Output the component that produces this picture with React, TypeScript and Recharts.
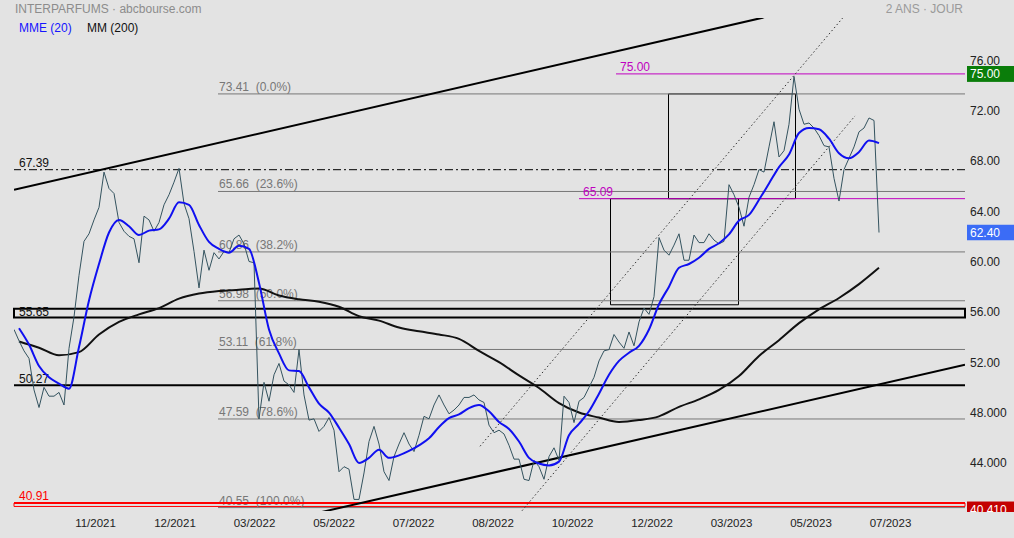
import React from "react";
import {
  ComposedChart,
  Line,
  XAxis,
  YAxis,
  ReferenceLine,
  ReferenceArea,
} from "recharts";

// daily closes, one value every ~2.5 sessions
const PRICE = [
  54.7, 53.8, 53.0, 52.4, 49.9, 48.5, 50.1, 49.4, 49.4, 49.7,
  48.7, 53.2, 55.7, 59.0, 61.7, 62.3, 63.4, 64.4, 67.2, 65.9,
  65.5, 63.2, 62.5, 62.1, 61.9, 60.0, 63.7, 63.4, 62.5, 63.2,
  64.6, 65.4, 66.4, 67.5, 64.7, 63.5, 60.9, 58.0, 61.0, 59.4,
  60.8, 60.3, 60.9, 60.8, 61.9, 62.2, 61.5, 60.1, 60.0, 47.6,
  50.5, 49.0, 51.1, 52.0, 50.6, 50.3, 49.7, 53.1, 49.5, 47.5,
  47.6, 46.6, 47.0, 47.7, 46.7, 43.4, 43.8, 43.6, 41.2, 41.2,
  43.3, 45.8, 47.0, 45.6, 43.4, 42.7, 44.6, 45.6, 46.5, 45.6,
  45.0, 46.3, 47.8, 47.6, 48.7, 49.5, 48.7, 48.0, 48.3, 48.7,
  49.3, 49.3, 49.5, 49.1, 48.9, 47.1, 46.5, 46.7, 46.4, 45.5,
  44.4, 44.4, 42.8, 42.7, 44.3, 43.8, 42.8, 44.6, 45.3, 44.3,
  49.4, 48.9, 47.3, 49.0, 49.3, 50.1, 50.9, 52.2, 53.0, 53.1,
  54.3, 53.7, 53.2, 54.5, 53.4, 55.3, 56.4, 55.9, 57.3, 62.0,
  61.0, 60.6, 61.4, 62.3, 60.2, 60.2, 62.2, 61.6, 61.6, 62.3,
  61.8, 61.5, 61.7, 66.2, 65.4, 64.4, 62.9, 65.2, 66.2, 67.4,
  67.2, 69.2, 71.2, 68.4, 68.9, 71.0, 74.8, 72.2, 71.0, 71.1,
  70.7, 70.1, 69.3, 69.2, 66.7, 64.9, 67.4, 68.3, 69.2, 70.4,
  70.7, 71.5, 71.3, 62.4,
];

// MME (20), one value every 2 price steps (starting at step 1)
const MME = [
  54.8, 53.5, 51.8, 50.9, 50.4, 50.0, 53.3, 57.0, 59.9, 62.4,
  63.4, 62.9, 62.2, 62.55, 62.65, 63.5, 64.8, 64.6, 63.0, 61.65,
  61.1, 60.8, 61.35, 61.1, 58.4, 54.7, 52.8, 51.45, 51.4, 50.1,
  48.8, 48.1, 46.9, 45.6, 44.1, 44.5, 45.15, 44.5, 44.7, 45.05,
  45.5, 46.05, 46.95, 47.65, 47.95, 48.45, 48.7, 48.2, 47.35, 46.8,
  45.8, 44.5, 44.05, 43.9, 44.2, 46.3, 47.2, 48.2, 49.6, 51.1,
  52.2, 52.85, 53.4, 54.7, 56.7, 58.1, 59.6, 59.9, 60.4, 61.1,
  61.55, 62.25, 63.35, 63.8, 65.0, 66.3, 67.6, 68.6, 70.3, 70.7,
  70.6, 69.85, 68.7, 68.3, 68.8, 69.7, 69.5,
];

// MM (200), one value every 4 price steps (starting at step 1)
const MM = [
  53.75, 53.25, 52.65, 52.9, 54.3, 55.3, 55.9, 56.4, 57.15, 57.55,
  57.75, 57.85, 57.95, 57.4, 57.1, 56.9, 56.5, 55.75, 55.4, 54.85,
  54.55, 54.3, 53.95, 53.0, 52.1, 51.05, 50.05, 48.85, 48.1, 47.7,
  47.35, 47.5, 47.8, 48.55, 49.15, 49.9, 51.0, 52.6, 53.85, 55.2,
  56.3, 57.2, 58.3, 59.6,
];

const X_TICKS = [16.3, 32.2, 48.1, 64.0, 79.9, 95.8, 111.7, 127.6, 143.5, 159.4, 175.3];
const X_LABELS = [
  "11/2021", "12/2021", "03/2022", "05/2022", "07/2022", "08/2022",
  "10/2022", "12/2022", "03/2023", "05/2023", "07/2023",
];

const Y_TICKS = [44, 48, 52, 56, 60, 64, 68, 72, 76];
const Y_LABELS = ["44.000", "48.000", "52.00", "56.00", "60.00", "64.00", "68.00", "72.00", "76.00"];

const FIB_LEVELS = [73.41, 65.66, 60.86, 56.98, 53.11, 47.59, 40.55];
const FIB_TEXT = ["73.41", "65.66", "60.86", "56.98", "53.11", "47.59", "40.55"];
const FIB_PCTS = ["0.0%", "23.6%", "38.2%", "50.0%", "61.8%", "78.6%", "100.0%"];

const X_MAX = 190.2;
const Y_MIN = 40.28;
const Y_MAX = 79.44;
const FIB_START = 40.8;

const FONT = "'Liberation Sans', Arial, sans-serif";
const MAGENTA = "#c000c0";

const priceData = PRICE.map((v, i) => ({ i, v }));
const mmeData = MME.map((v, k) => ({ i: 1 + 2 * k, v }));
const mmData = MM.map((v, k) => ({ i: 1 + 4 * k, v }));

const textLabel =
  (text: string, color: string, dx: number, dy: number, bottom = false) =>
  (props: any) => {
    const vb = props.viewBox || {};
    const y = bottom ? vb.y + vb.height : vb.y;
    return (
      <text
        x={vb.x + dx}
        y={y + dy}
        fill={color}
        fontSize={12}
        fontFamily={FONT}
        style={{ whiteSpace: "pre" }}
      >
        {text}
      </text>
    );
  };

const badge =
  (text: string, fill: string, clipBottom?: number) => (props: any) => {
    const vb = props.viewBox || {};
    const x = vb.x + vb.width + 2;
    const top = vb.y - 8;
    const h = clipBottom ? Math.min(16, clipBottom - top) : 16;
    const id = "clip-" + text.replace(".", "");
    return (
      <g>
        <defs>
          <clipPath id={id}>
            <rect x={x} y={top} width={47} height={h} />
          </clipPath>
        </defs>
        <g clipPath={`url(#${id})`}>
          <rect x={x} y={top} width={47} height={16} fill={fill} />
          <text x={x + 3} y={vb.y + 4.5} fill="#fff" fontSize={12} fontFamily={FONT}>
            {text}
          </text>
        </g>
      </g>
    );
  };

export default function App() {
  return (
    <div
      style={{
        position: "absolute",
        left: 0,
        top: 0,
        width: 1014,
        height: 538,
        background: "#e3e3e3",
        fontFamily: FONT,
        overflow: "hidden",
      }}
    >
      <div style={{ position: "absolute", left: 15, top: 2, fontSize: 12, lineHeight: "14px", color: "#8c8c8c" }}>
        INTERPARFUMS · abcbourse.com
      </div>
      <div style={{ position: "absolute", right: 51, top: 2, fontSize: 12, lineHeight: "14px", color: "#9a9a9a" }}>
        2 ANS · JOUR
      </div>
      <div style={{ position: "absolute", left: 19, top: 21, fontSize: 12, lineHeight: "14px", color: "#1515ff" }}>
        MME (20)
      </div>
      <div style={{ position: "absolute", left: 87, top: 21, fontSize: 12, lineHeight: "14px", color: "#111" }}>
        MM (200)
      </div>

      <ComposedChart
        width={1014}
        height={538}
        margin={{ top: 18, right: 0, bottom: 0, left: 14 }}
        style={{ position: "absolute", left: 0, top: 0 }}
      >
        <XAxis
          type="number"
          dataKey="i"
          domain={[0, X_MAX]}
          ticks={X_TICKS}
          interval={0}
          tickFormatter={(v: number) => X_LABELS[X_TICKS.indexOf(v)] ?? ""}
          axisLine={false}
          tickLine={false}
          height={27}
          tick={{ fill: "#222", fontSize: 11.5, fontFamily: FONT }}
          allowDataOverflow
        />
        <YAxis
          orientation="right"
          type="number"
          domain={[Y_MIN, Y_MAX]}
          ticks={Y_TICKS}
          interval={0}
          tickFormatter={(v: number) => Y_LABELS[Y_TICKS.indexOf(v)] ?? ""}
          axisLine={false}
          tickLine={false}
          tickSize={0}
          tickMargin={5}
          width={49}
          tick={{ fill: "#222", fontSize: 12, fontFamily: FONT, dy: -1 }}
          allowDataOverflow
        />

        {FIB_LEVELS.map((lvl, k) => (
          <ReferenceLine
            key={"fib" + k}
            segment={[
              { x: FIB_START, y: lvl },
              { x: X_MAX, y: lvl },
            ]}
            stroke="#777"
            strokeWidth={1}
            ifOverflow="visible"
            label={textLabel(`${FIB_TEXT[k]}  (${FIB_PCTS[k]})`, "#777", 1, -3)}
          />
        ))}

        <ReferenceLine
          y={67.39}
          stroke="#000"
          strokeDasharray="8 3 2 3"
          ifOverflow="visible"
          label={textLabel("67.39", "#111", 5, -2.5)}
        />
        <ReferenceArea
          y1={55.65}
          y2={56.35}
          stroke="#000"
          strokeWidth={2}
          fill="none"
          fillOpacity={0}
          ifOverflow="visible"
          label={textLabel("55.65", "#111", 5, -2, true)}
        />
        <ReferenceLine
          y={50.27}
          stroke="#000"
          strokeWidth={2}
          ifOverflow="visible"
          label={textLabel("50.27", "#111", 5, -2.5)}
        />
        <ReferenceArea
          y1={40.64}
          y2={40.91}
          stroke="#ff0000"
          strokeWidth={1}
          fill="none"
          fillOpacity={0}
          ifOverflow="visible"
        />
        <ReferenceLine
          y={40.91}
          stroke="#ff0000"
          strokeWidth={2}
          ifOverflow="visible"
          label={textLabel("40.91", "#ff0000", 5, -3)}
        />

        <ReferenceLine
          segment={[
            { x: 120.4, y: 75 },
            { x: X_MAX, y: 75 },
          ]}
          stroke={MAGENTA}
          ifOverflow="visible"
          label={textLabel("75.00", MAGENTA, 4, -3)}
        />
        <ReferenceLine
          segment={[
            { x: 113, y: 65.09 },
            { x: X_MAX, y: 65.09 },
          ]}
          stroke={MAGENTA}
          ifOverflow="visible"
          label={textLabel("65.09", MAGENTA, 4, -3)}
        />

        <ReferenceArea
          x1={119.3}
          x2={144.9}
          y1={56.66}
          y2={65.09}
          stroke="#000"
          strokeWidth={1}
          fill="none"
          fillOpacity={0}
          ifOverflow="visible"
        />
        <ReferenceArea
          x1={130.9}
          x2={156.3}
          y1={65.09}
          y2={73.41}
          stroke="#000"
          strokeWidth={1}
          fill="none"
          fillOpacity={0}
          ifOverflow="visible"
        />

        <ReferenceLine
          segment={[
            { x: 93.2, y: 45.42 },
            { x: 166.5, y: 79.8 },
          ]}
          stroke="#333"
          strokeDasharray="1.5 2.5"
          ifOverflow="hidden"
        />
        <ReferenceLine
          segment={[
            { x: 101.6, y: 40.3 },
            { x: 168.2, y: 71.66 },
          ]}
          stroke="#333"
          strokeDasharray="1.5 2.5"
          ifOverflow="hidden"
        />

        <ReferenceLine
          segment={[
            { x: 0, y: 65.79 },
            { x: 150, y: 79.49 },
          ]}
          stroke="#000"
          strokeWidth={2}
          ifOverflow="hidden"
        />
        <ReferenceLine
          segment={[
            { x: 60, y: 40.06 },
            { x: X_MAX, y: 51.9 },
          ]}
          stroke="#000"
          strokeWidth={2}
          ifOverflow="hidden"
        />

        <ReferenceLine y={75} stroke="none" ifOverflow="visible" label={badge("75.00", "#0a7d0a")} />
        <ReferenceLine y={62.4} stroke="none" ifOverflow="visible" label={badge("62.40", "#3b6cf6")} />
        <ReferenceLine y={40.41} stroke="none" ifOverflow="visible" label={badge("40.410", "#c40000", 512)} />

        <Line
          data={mmData}
          dataKey="v"
          type="monotone"
          stroke="#111"
          strokeWidth={2}
          dot={false}
          isAnimationActive={false}
        />
        <Line
          data={priceData}
          dataKey="v"
          type="linear"
          stroke="#34535f"
          strokeWidth={1}
          dot={false}
          isAnimationActive={false}
        />
        <Line
          data={mmeData}
          dataKey="v"
          type="monotone"
          stroke="#1010f0"
          strokeWidth={2}
          dot={false}
          isAnimationActive={false}
        />
      </ComposedChart>
    </div>
  );
}
